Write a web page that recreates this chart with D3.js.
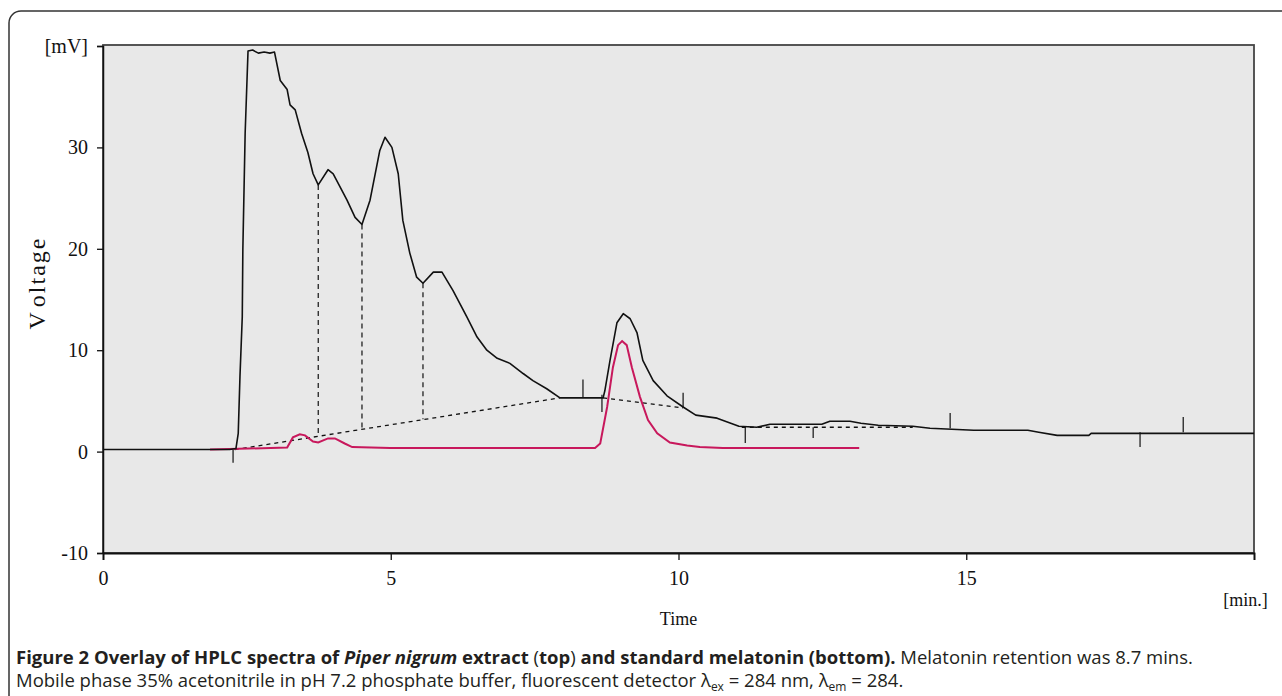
<!DOCTYPE html>
<html>
<head>
<meta charset="utf-8">
<style>
body { margin: 0; background: #fff; }
svg { display: block; }
.tick text { font-family: "Liberation Serif", "Times New Roman", serif; }
.caption { font-family: "Open Sans", sans-serif; font-size: 18.5px; fill: #231f20; }
</style>
</head>
<body>
<svg width="1282" height="696"></svg>
<script src="https://d3js.org/d3.v7.min.js"></script>
<script>

// extract trace (black), [time min, mV]
var extractTrace = [
  [0, 0.2], [1.0, 0.2], [2.2, 0.2], [2.31, 0.3], [2.35, 1.8], [2.38, 7.4], [2.42, 13.3],
  [2.43, 19.9], [2.47, 31.4], [2.52, 39.5], [2.6, 39.6], [2.7, 39.3], [2.8, 39.4],
  [2.9, 39.3], [2.98, 39.4], [3.08, 36.6], [3.2, 35.7], [3.25, 34.2], [3.34, 33.7],
  [3.45, 31.4], [3.56, 29.5], [3.65, 27.4], [3.74, 26.3], [3.91, 27.8], [4.0, 27.4],
  [4.24, 24.8], [4.38, 23.1], [4.5, 22.4], [4.64, 24.8], [4.81, 29.7], [4.9, 31.0],
  [5.02, 30.0], [5.13, 27.4], [5.21, 22.8], [5.33, 19.6], [5.45, 17.2], [5.56, 16.6],
  [5.74, 17.7], [5.89, 17.7], [6.08, 15.9], [6.32, 13.3], [6.5, 11.3], [6.67, 10.0],
  [6.85, 9.2], [7.07, 8.7], [7.3, 7.7], [7.47, 7.0], [7.71, 6.2], [7.94, 5.3],
  [8.64, 5.3], [8.69, 5.3], [8.72, 6.0], [8.81, 9.0], [8.93, 12.7], [9.04, 13.6],
  [9.16, 13.1], [9.28, 11.7], [9.38, 9.0], [9.56, 7.0], [9.8, 5.5], [10.08, 4.4],
  [10.3, 3.6], [10.67, 3.3], [11.05, 2.5], [11.36, 2.4], [11.59, 2.7], [12.49, 2.7],
  [12.63, 3.0], [12.98, 3.0], [13.17, 2.8], [13.47, 2.6], [14.07, 2.5], [14.37, 2.3],
  [15.13, 2.1], [16.07, 2.1], [16.26, 1.9], [16.58, 1.6], [17.13, 1.6], [17.17, 1.8],
  [20, 1.8]
];

// melatonin standard trace (red)
var standardTrace = [
  [1.86, 0.2], [2.52, 0.3], [3.2, 0.4], [3.3, 1.4], [3.42, 1.7], [3.51, 1.6], [3.65, 1.0],
  [3.74, 0.9], [3.91, 1.3], [4.03, 1.3], [4.2, 0.8], [4.33, 0.45], [4.99, 0.35],
  [8.55, 0.35], [8.64, 0.8], [8.76, 4.4], [8.86, 8.3], [8.95, 10.5], [9.02, 10.9],
  [9.1, 10.5], [9.19, 8.3], [9.33, 5.4], [9.47, 3.1], [9.63, 1.8], [9.85, 0.9],
  [10.15, 0.6], [10.37, 0.45], [10.77, 0.35], [13.14, 0.35]
];

// integration baselines (dashed)
var baselineSegments = [
  [[2.29, 0.2], [7.94, 5.3]],
  [[8.69, 5.3], [10.08, 4.3]],
  [[11.1, 2.4], [14.07, 2.4]]
];

// peak drop lines: [time, top mV, bottom mV]
var dropLines = [[3.74, 26.3, 1.5], [4.5, 22.4, 2.2], [5.56, 16.6, 3.2]];

// integration event marks: [time, mV from, mV to]
var eventMarks = [
  [2.26, 0.15, -1.1], [8.34, 7.1, 5.3], [8.67, 5.6, 3.9], [10.08, 5.8, 4.3],
  [11.16, 2.4, 0.85], [12.34, 2.4, 1.35], [14.72, 3.8, 2.3], [18.02, 1.9, 0.45],
  [18.77, 3.4, 1.9]
];

var yTicks = [-10, 0, 10, 20, 30, 40];
var xTicks = [0, 5, 10, 15, 20];

var svg = d3.select("svg");

// outer figure frame
svg.append("rect")
    .attr("x", 9).attr("y", 11)
    .attr("width", 1300).attr("height", 720)
    .attr("rx", 12)
    .attr("fill", "none")
    .attr("stroke", "#333")
    .attr("stroke-width", 1.5);

var x = d3.scaleLinear().domain([0, 20]).range([103, 1254]);
var y = d3.scaleLinear().domain([-10, 40]).range([553, 46]);

// plot area
svg.append("rect")
    .attr("x", x(0)).attr("y", y(40) - 1)
    .attr("width", x(20) - x(0)).attr("height", y(-10) - y(40) + 1)
    .attr("fill", "#e8e8e8")
    .attr("stroke", "#444")
    .attr("stroke-width", 1.8);

var line = d3.line()
    .x(function(d) { return x(d[0]); })
    .y(function(d) { return y(d[1]); });

var marks = svg.append("g");

marks.selectAll(".base")
    .data(baselineSegments)
  .enter().append("path")
    .attr("d", line)
    .attr("fill", "none")
    .attr("stroke", "#111")
    .attr("stroke-width", 1.3)
    .attr("stroke-dasharray", "4,4");

marks.selectAll(".drop")
    .data(dropLines)
  .enter().append("line")
    .attr("x1", function(d) { return x(d[0]); })
    .attr("x2", function(d) { return x(d[0]); })
    .attr("y1", function(d) { return y(d[1]); })
    .attr("y2", function(d) { return y(d[2]); })
    .attr("stroke", "#111")
    .attr("stroke-width", 1.2)
    .attr("stroke-dasharray", "5,4");

marks.selectAll(".event")
    .data(eventMarks)
  .enter().append("line")
    .attr("x1", function(d) { return x(d[0]); })
    .attr("x2", function(d) { return x(d[0]); })
    .attr("y1", function(d) { return y(d[1]); })
    .attr("y2", function(d) { return y(d[2]); })
    .attr("stroke", "#111")
    .attr("stroke-width", 1.2);

marks.append("path")
    .datum(standardTrace)
    .attr("d", line)
    .attr("fill", "none")
    .attr("stroke", "#c8185c")
    .attr("stroke-width", 2);

marks.append("path")
    .datum(extractTrace)
    .attr("d", line)
    .attr("fill", "none")
    .attr("stroke", "#111")
    .attr("stroke-width", 1.6)
    .attr("stroke-linejoin", "round");

// axes
var yAxis = svg.append("g")
    .attr("transform", "translate(" + x(0) + ",0)")
    .call(d3.axisLeft(y)
      .tickValues(yTicks)
      .tickSize(6)
      .tickPadding(9)
      .tickFormat(function(d) { return d === 40 ? "[mV]" : d; }));
yAxis.select(".domain").attr("stroke", "#111").attr("stroke-width", 1.5);
yAxis.selectAll(".tick text").attr("font-size", 20).attr("fill", "#111");
yAxis.selectAll(".tick line").attr("stroke", "#111").attr("stroke-width", 1.3);

var xAxis = svg.append("g")
    .attr("transform", "translate(0," + y(-10) + ")")
    .call(d3.axisBottom(x)
      .tickValues(xTicks)
      .tickSize(7)
      .tickPadding(11)
      .tickFormat(function(d) { return d === 20 ? "[min.]" : d; }));
xAxis.select(".domain").attr("stroke", "#111").attr("stroke-width", 1.8);
xAxis.selectAll(".tick text").attr("font-size", 20).attr("fill", "#111");
xAxis.selectAll(".tick line").attr("stroke", "#111").attr("stroke-width", 1.3);
xAxis.selectAll(".tick text")
    .filter(function(d) { return d === 20; })
    .attr("font-size", 18)
    .attr("y", 40)
    .attr("x", -9);

svg.append("text")
    .attr("x", x(10)).attr("y", 625)
    .attr("text-anchor", "middle")
    .attr("font-family", "Liberation Serif, serif")
    .attr("font-size", 18)
    .attr("fill", "#111")
    .text("Time");

var ylab = svg.append("text")
    .attr("transform", "translate(45,283) rotate(-90)")
    .attr("text-anchor", "middle")
    .attr("font-family", "Liberation Serif, serif")
    .attr("font-size", 24)
    .attr("letter-spacing", 2)
    .attr("fill", "#111");
ylab.append("tspan").text("V");
ylab.append("tspan").attr("dx", 6).text("oltage");

// caption
var cap1 = svg.append("text").attr("class", "caption").attr("x", 16).attr("y", 664);
cap1.append("tspan").attr("font-weight", "bold").text("Figure 2 Overlay of HPLC spectra of ");
cap1.append("tspan").attr("font-weight", "bold").attr("font-style", "italic").text("Piper nigrum");
cap1.append("tspan").attr("font-weight", "bold").text(" extract ");
cap1.append("tspan").text("(");
cap1.append("tspan").attr("font-weight", "bold").text("top");
cap1.append("tspan").text(")");
cap1.append("tspan").attr("font-weight", "bold").text(" and standard melatonin (bottom).");
cap1.append("tspan").text(" Melatonin retention was 8.7 mins.");

var cap2 = svg.append("text").attr("class", "caption").attr("x", 16).attr("y", 687);
cap2.append("tspan").text("Mobile phase 35% acetonitrile in pH 7.2 phosphate buffer, fluorescent detector \u03bb");
cap2.append("tspan").attr("font-size", "12px").attr("dy", 4).text("ex");
cap2.append("tspan").attr("dy", -4).text(" = 284 nm, \u03bb");
cap2.append("tspan").attr("font-size", "12px").attr("dy", 4).text("em");
cap2.append("tspan").attr("dy", -4).text(" = 284.");

</script>
</body>
</html>
